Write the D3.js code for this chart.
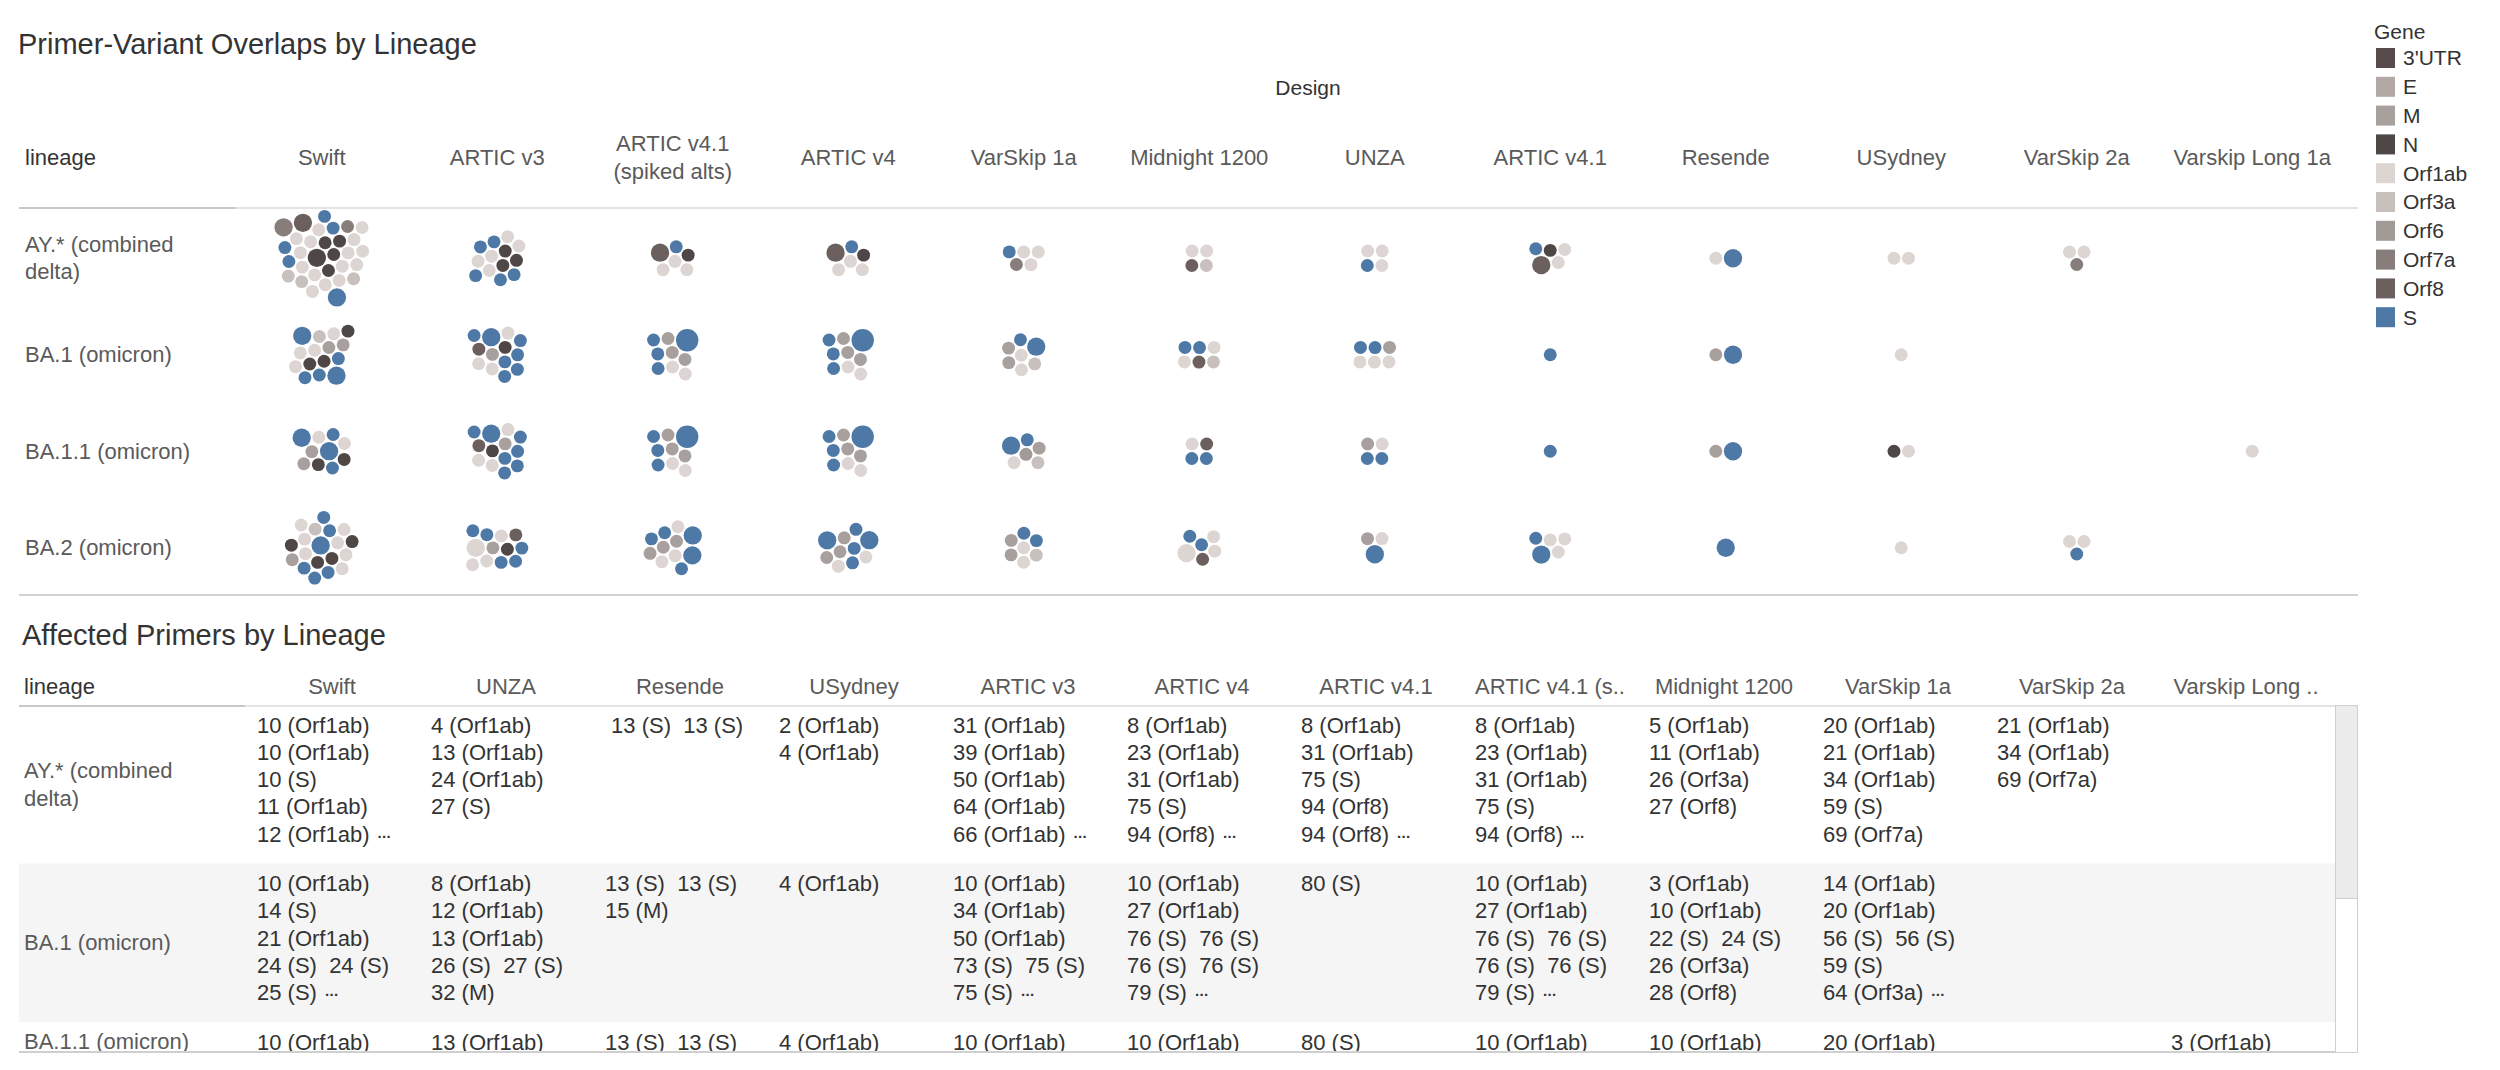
<!DOCTYPE html>
<html>
<head>
<meta charset="utf-8">
<script src="https://cdn.jsdelivr.net/npm/d3@7"></script>
<style>
  body { margin: 0; background: #fff; }
  svg text { font-family: "Liberation Sans", Arial, sans-serif; }
</style>
</head>
<body>
<div id="chart"></div>
<script>
// ---- data ----
var genes = ["3'UTR", "E", "M", "N", "Orf1ab", "Orf3a", "Orf6", "Orf7a", "Orf8", "S"];
var geneColors = ["#574c4b", "#b2a8a6", "#a8a09d", "#4f4746", "#dcd5d2", "#c8c0bd", "#a29a97", "#877e7b", "#6c605e", "#4e79a7"];

var lineages = ["AY.* (combined delta)", "BA.1 (omicron)", "BA.1.1 (omicron)", "BA.2 (omicron)"];
var lineageLines = [["AY.* (combined", "delta)"], ["BA.1 (omicron)"], ["BA.1.1 (omicron)"], ["BA.2 (omicron)"]];

var designs = ["Swift", "ARTIC v3", "ARTIC v4.1 (spiked alts)", "ARTIC v4", "VarSkip 1a", "Midnight 1200",
               "UNZA", "ARTIC v4.1", "Resende", "USydney", "VarSkip 2a", "Varskip Long 1a"];
var designLines = [["Swift"], ["ARTIC v3"], ["ARTIC v4.1", "(spiked alts)"], ["ARTIC v4"], ["VarSkip 1a"], ["Midnight 1200"],
                   ["UNZA"], ["ARTIC v4.1"], ["Resende"], ["USydney"], ["VarSkip 2a"], ["Varskip Long 1a"]];

// bubbles per cell, read top to bottom: [gene, overlaps, how many bubbles]
var bubblesAY = [
  [["Orf7a",2,1],["Orf8",2,1],["S",1,2],["Orf7a",1,1],["Orf1ab",1,4],["N",1,2],["Orf1ab",1,1],["S",1,1],["Orf1ab",1,1],
   ["N",2,1],["N",1,1],["Orf1ab",1,2],["S",1,1],["Orf1ab",1,2],["N",1,1],["Orf1ab",1,2],["Orf3a",1,2],["Orf1ab",1,3],
   ["Orf3a",1,1],["S",2,1]],
  [["S",1,2],["Orf1ab",1,4],["N",1,2],["S",1,1],["Orf1ab",1,1],["N",1,1],["S",1,2]],
  [["Orf8",2,1],["S",1,1],["N",1,1],["Orf1ab",1,3]],
  [["Orf8",2,1],["S",1,1],["N",1,1],["Orf1ab",1,3]],
  [["S",1,1],["Orf1ab",1,2],["Orf7a",1,1],["Orf1ab",1,1]],
  [["Orf1ab",1,2],["Orf8",1,1],["Orf3a",1,1]],
  [["Orf1ab",1,2],["S",1,1],["Orf1ab",1,1]],
  [["S",1,1],["N",1,1],["Orf1ab",1,1],["Orf8",2,1],["Orf1ab",1,1]],
  [["Orf1ab",1,1],["S",2,1]],
  [["Orf1ab",1,2]],
  [["Orf1ab",1,2],["Orf7a",1,1]],
  []
];
var bubblesBA1 = [
  [["S",2,1],["Orf3a",1,1],["Orf1ab",1,1],["N",1,1],["Orf1ab",1,2],["M",1,2],["Orf1ab",1,1],["N",1,2],["S",1,3],["S",2,1]],
  [["S",1,1],["S",2,1],["Orf1ab",1,1],["S",1,1],["Orf8",1,1],["M",1,1],["N",1,1],["S",1,1],["Orf1ab",1,2],["S",1,3]],
  [["S",1,1],["M",1,1],["S",3,1],["S",1,1],["M",1,2],["S",1,1],["Orf1ab",1,2]],
  [["S",1,1],["M",1,1],["S",3,1],["S",1,1],["M",1,2],["S",1,1],["Orf1ab",1,2]],
  [["M",1,1],["S",1,1],["S",2,1],["M",1,1],["Orf1ab",1,1],["Orf3a",1,1],["Orf1ab",1,1]],
  [["S",1,2],["Orf1ab",1,2],["Orf8",1,1],["Orf3a",1,1]],
  [["S",1,2],["M",1,1],["Orf1ab",1,3]],
  [["S",1,1]],
  [["M",1,1],["S",2,1]],
  [["Orf1ab",1,1]],
  [],
  []
];
var bubblesBA11 = [
  [["S",2,1],["Orf1ab",1,1],["S",1,1],["Orf1ab",1,1],["M",1,2],["S",2,1],["N",1,2],["S",1,1]],
  [["S",1,1],["S",2,1],["Orf1ab",1,1],["S",1,1],["Orf8",1,1],["N",1,1],["M",1,1],["S",1,1],["Orf1ab",1,2],["S",1,3]],
  [["S",1,1],["M",1,1],["S",3,1],["S",1,1],["M",1,2],["S",1,1],["Orf1ab",1,2]],
  [["S",1,1],["M",1,1],["S",3,1],["S",1,1],["M",1,2],["S",1,1],["Orf1ab",1,2]],
  [["S",2,1],["S",1,1],["M",1,1],["Orf1ab",1,1],["Orf6",1,1],["Orf3a",1,1]],
  [["Orf1ab",1,1],["Orf8",1,1],["S",1,2]],
  [["M",1,1],["Orf1ab",1,1],["S",1,2]],
  [["S",1,1]],
  [["M",1,1],["S",2,1]],
  [["N",1,1],["Orf1ab",1,1]],
  [],
  [["Orf1ab",1,1]]
];
var bubblesBA2 = [
  [["Orf1ab",1,1],["Orf3a",1,1],["S",1,2],["Orf1ab",1,1],["N",1,1],["Orf1ab",1,1],["S",2,1],["Orf1ab",1,1],["N",1,1],
   ["M",1,1],["Orf1ab",1,1],["N",1,2],["Orf1ab",1,1],["S",1,3],["Orf1ab",1,1]],
  [["S",1,2],["Orf1ab",1,1],["Orf8",1,1],["Orf1ab",2,1],["M",1,1],["N",1,1],["S",1,1],["Orf1ab",1,2],["S",1,2]],
  [["S",1,2],["Orf1ab",1,1],["S",2,1],["M",1,3],["S",2,1],["Orf1ab",1,2],["S",1,1]],
  [["S",2,1],["M",1,1],["S",1,1],["S",2,1],["M",1,2],["S",1,1],["Orf1ab",1,2],["S",1,1]],
  [["M",1,1],["S",1,2],["M",1,1],["Orf1ab",1,1],["Orf3a",1,1],["Orf1ab",1,1]],
  [["S",1,2],["Orf1ab",1,1],["Orf1ab",2,1],["Orf8",1,1],["Orf1ab",1,1]],
  [["M",1,1],["Orf1ab",1,1],["S",2,1]],
  [["S",1,1],["Orf1ab",1,2],["S",2,1],["Orf1ab",1,1]],
  [["S",2,1]],
  [["Orf1ab",1,1]],
  [["Orf1ab",1,2],["S",1,1]],
  []
];
var bubbleRows = [bubblesAY, bubblesBA1, bubblesBA11, bubblesBA2];

// table of affected primers ("~" marks a truncated cell)
var tableDesigns = ["Swift", "UNZA", "Resende", "USydney", "ARTIC v3", "ARTIC v4", "ARTIC v4.1",
                    "ARTIC v4.1 (s..", "Midnight 1200", "VarSkip 1a", "VarSkip 2a", "Varskip Long .."];
var primersAY = [
  ["10 (Orf1ab)", "10 (Orf1ab)", "10 (S)", "11 (Orf1ab)", "12 (Orf1ab)~"],
  ["4 (Orf1ab)", "13 (Orf1ab)", "24 (Orf1ab)", "27 (S)"],
  [" 13 (S)  13 (S)"],
  ["2 (Orf1ab)", "4 (Orf1ab)"],
  ["31 (Orf1ab)", "39 (Orf1ab)", "50 (Orf1ab)", "64 (Orf1ab)", "66 (Orf1ab)~"],
  ["8 (Orf1ab)", "23 (Orf1ab)", "31 (Orf1ab)", "75 (S)", "94 (Orf8)~"],
  ["8 (Orf1ab)", "31 (Orf1ab)", "75 (S)", "94 (Orf8)", "94 (Orf8)~"],
  ["8 (Orf1ab)", "23 (Orf1ab)", "31 (Orf1ab)", "75 (S)", "94 (Orf8)~"],
  ["5 (Orf1ab)", "11 (Orf1ab)", "26 (Orf3a)", "27 (Orf8)"],
  ["20 (Orf1ab)", "21 (Orf1ab)", "34 (Orf1ab)", "59 (S)", "69 (Orf7a)"],
  ["21 (Orf1ab)", "34 (Orf1ab)", "69 (Orf7a)"],
  []
];
var primersBA1 = [
  ["10 (Orf1ab)", "14 (S)", "21 (Orf1ab)", "24 (S)  24 (S)", "25 (S)~"],
  ["8 (Orf1ab)", "12 (Orf1ab)", "13 (Orf1ab)", "26 (S)  27 (S)", "32 (M)"],
  ["13 (S)  13 (S)", "15 (M)"],
  ["4 (Orf1ab)"],
  ["10 (Orf1ab)", "34 (Orf1ab)", "50 (Orf1ab)", "73 (S)  75 (S)", "75 (S)~"],
  ["10 (Orf1ab)", "27 (Orf1ab)", "76 (S)  76 (S)", "76 (S)  76 (S)", "79 (S)~"],
  ["80 (S)"],
  ["10 (Orf1ab)", "27 (Orf1ab)", "76 (S)  76 (S)", "76 (S)  76 (S)", "79 (S)~"],
  ["3 (Orf1ab)", "10 (Orf1ab)", "22 (S)  24 (S)", "26 (Orf3a)", "28 (Orf8)"],
  ["14 (Orf1ab)", "20 (Orf1ab)", "56 (S)  56 (S)", "59 (S)", "64 (Orf3a)~"],
  [],
  []
];
var primersBA11 = [
  ["10 (Orf1ab)"], ["13 (Orf1ab)"], ["13 (S)  13 (S)"], ["4 (Orf1ab)"], ["10 (Orf1ab)"], ["10 (Orf1ab)"],
  ["80 (S)"], ["10 (Orf1ab)"], ["10 (Orf1ab)"], ["20 (Orf1ab)"], [], ["3 (Orf1ab)"]
];
var tableLineages = ["AY.* (combined delta)", "BA.1 (omicron)", "BA.1.1 (omicron)"];
var primerRows = [primersAY, primersBA1, primersBA11];

// ---- layout ----
var W = 2500, H = 1070;
var svg = d3.select("#chart").append("svg")
  .attr("width", W).attr("height", H);

var color = d3.scaleOrdinal().domain(genes).range(geneColors);
var size = d3.scaleSqrt().domain([0, 3]).range([0, 11.2]);

var x = d3.scaleBand().domain(designs).range([234, 2340]);
var y = d3.scaleBand().domain(lineages).range([210, 596]);

// title
svg.append("text").attr("x", 18).attr("y", 44).attr("dy", "0.35em")
  .style("font-size", "29px").attr("fill", "#333")
  .text("Primer-Variant Overlaps by Lineage");

svg.append("text").attr("x", 1308).attr("y", 88).attr("dy", "0.35em")
  .attr("text-anchor", "middle").style("font-size", "21px").attr("fill", "#333")
  .text("Design");

svg.append("text").attr("x", 25).attr("y", 157).attr("dy", "0.35em")
  .style("font-size", "22px").attr("fill", "#333").text("lineage");

// column headers
designs.forEach(function(d, i) {
  var lines = designLines[i];
  var t = svg.append("text").attr("text-anchor", "middle")
    .style("font-size", "22px").attr("fill", "#5a5a5a");
  lines.forEach(function(l, k) {
    t.append("tspan").attr("x", x(d) + x.bandwidth() / 2)
      .attr("y", 157 + (k - (lines.length - 1) / 2) * 28).attr("dy", "0.35em").text(l);
  });
});

// header rules
svg.append("line").attr("x1", 19).attr("x2", 236).attr("y1", 208).attr("y2", 208)
  .attr("stroke", "#c8c8c8").attr("stroke-width", 2);
svg.append("line").attr("x1", 236).attr("x2", 2358).attr("y1", 208).attr("y2", 208)
  .attr("stroke", "#e4e4e4").attr("stroke-width", 2);
svg.append("line").attr("x1", 19).attr("x2", 2358).attr("y1", 595).attr("y2", 595)
  .attr("stroke", "#d2d2d2").attr("stroke-width", 2);

// row labels
lineages.forEach(function(d, i) {
  var lines = lineageLines[i];
  var t = svg.append("text").style("font-size", "22px").attr("fill", "#5a5a5a");
  lines.forEach(function(l, k) {
    t.append("tspan").attr("x", 25)
      .attr("y", y(d) + y.bandwidth() / 2 + (k - (lines.length - 1) / 2) * 27).attr("dy", "0.35em").text(l);
  });
});

// packed bubbles: seed in rows (reading order), then let collide + centering squeeze them
var bubbleG = svg.append("g");
lineages.forEach(function(lin, li) {
  designs.forEach(function(des, di) {
    var nodes = [];
    bubbleRows[li][di].forEach(function(s) {
      for (var k = 0; k < s[2]; k++) nodes.push({ gene: s[0], n: s[1], r: size(s[1]) });
    });
    if (!nodes.length) return;
    var cols = Math.ceil(Math.sqrt(nodes.length)), rows = Math.ceil(nodes.length / cols);
    nodes.forEach(function(d, i) {
      var row = Math.floor(i / cols), col = i % cols;
      var inRow = Math.min(cols, nodes.length - row * cols);
      d.x = (col - (inRow - 1) / 2) * 14.5;
      d.y = (row - (rows - 1) / 2) * 13;
    });
    var sim = d3.forceSimulation(nodes)
      .force("x", d3.forceX(0).strength(0.05))
      .force("y", d3.forceY(0).strength(0.05))
      .force("collide", d3.forceCollide(function(d) { return d.r + 0.8; }).strength(1).iterations(4))
      .stop();
    for (var t = 0; t < 400; t++) sim.tick();
    var x0 = d3.min(nodes, function(d) { return d.x - d.r; }), x1 = d3.max(nodes, function(d) { return d.x + d.r; });
    var y0 = d3.min(nodes, function(d) { return d.y - d.r; }), y1 = d3.max(nodes, function(d) { return d.y + d.r; });
    var ox = x(des) + x.bandwidth() / 2 - (x0 + x1) / 2;
    var oy = y(lin) + y.bandwidth() / 2 - (y0 + y1) / 2;
    bubbleG.append("g").selectAll("circle").data(nodes).join("circle")
      .attr("cx", function(d) { return d.x + ox; })
      .attr("cy", function(d) { return d.y + oy; })
      .attr("r", function(d) { return d.r; })
      .attr("fill", function(d) { return color(d.gene); });
  });
});

// legend
svg.append("text").attr("x", 2374).attr("y", 32).attr("dy", "0.35em")
  .style("font-size", "21px").attr("fill", "#333").text("Gene");
var leg = svg.append("g").selectAll("g").data(genes).join("g")
  .attr("transform", function(d, i) { return "translate(2376," + (58 + i * 28.8) + ")"; });
leg.append("rect").attr("x", 0).attr("y", -10).attr("width", 19).attr("height", 20)
  .attr("fill", function(d) { return color(d); });
leg.append("text").attr("x", 27).attr("dy", "0.35em")
  .style("font-size", "21px").attr("fill", "#333").text(function(d) { return d; });

// ---- affected primers table ----
var tx = d3.scaleBand().domain(tableDesigns).range([245, 2333]);
var ty = d3.scaleBand().domain(tableLineages).range([705, 705 + 3 * 158.5]);
var clipBottom = 1052;

svg.append("text").attr("x", 22).attr("y", 635).attr("dy", "0.35em")
  .style("font-size", "29px").attr("fill", "#333").text("Affected Primers by Lineage");

svg.append("text").attr("x", 24).attr("y", 686).attr("dy", "0.35em")
  .style("font-size", "22px").attr("fill", "#333").text("lineage");

svg.append("g").selectAll("text").data(tableDesigns).join("text")
  .attr("x", function(d) { return tx(d) + tx.bandwidth() / 2; })
  .attr("y", 686).attr("dy", "0.35em").attr("text-anchor", "middle")
  .style("font-size", "22px").attr("fill", "#5a5a5a").text(function(d) { return d; });

svg.append("clipPath").attr("id", "tclip").append("rect")
  .attr("x", 0).attr("y", 706).attr("width", 2335).attr("height", clipBottom - 706);

var body = svg.append("g").attr("clip-path", "url(#tclip)");

// banded row
body.append("rect").attr("x", 19).attr("width", 2316)
  .attr("y", ty("BA.1 (omicron)")).attr("height", ty.bandwidth()).attr("fill", "#f5f5f5");

tableLineages.forEach(function(lin, li) {
  var top = ty(lin);
  var lines = lineageLines[li];
  var cy = top + ty.bandwidth() / 2;
  if (top + ty.bandwidth() > clipBottom) cy = top + 19;
  var lt = body.append("text").style("font-size", "22px").attr("fill", "#5a5a5a");
  lines.forEach(function(l, k) {
    lt.append("tspan").attr("x", 24).attr("y", cy + (k - (lines.length - 1) / 2) * 28)
      .attr("dy", "0.35em").text(l);
  });

  tableDesigns.forEach(function(des, di) {
    primerRows[li][di].forEach(function(line, k) {
      var more = line.slice(-1) === "~";
      var t = body.append("text").attr("x", tx(des) + 12).attr("y", top + 20 + k * 27.2)
        .attr("dy", "0.35em").attr("xml:space", "preserve")
        .style("font-size", "22px").attr("fill", "#333")
        .text(more ? line.slice(0, -1) : line);
      if (more) {
        t.append("tspan").attr("dx", 8).style("font-weight", "bold").style("font-size", "15px")
          .style("letter-spacing", "-0.5px").text("\u00b7\u00b7\u00b7");
      }
    });
  });
});

// table rules
svg.append("line").attr("x1", 19).attr("x2", 245).attr("y1", 706).attr("y2", 706)
  .attr("stroke", "#c8c8c8").attr("stroke-width", 2);
svg.append("line").attr("x1", 245).attr("x2", 2335).attr("y1", 706).attr("y2", 706)
  .attr("stroke", "#e4e4e4").attr("stroke-width", 2);
svg.append("line").attr("x1", 19).attr("x2", 2335).attr("y1", clipBottom).attr("y2", clipBottom)
  .attr("stroke", "#cfcfcf").attr("stroke-width", 2);

// scrollbar
svg.append("rect").attr("x", 2335.5).attr("y", 705.5).attr("width", 22).attr("height", clipBottom - 705)
  .attr("fill", "#fff").attr("stroke", "#cfcfcf");
svg.append("rect").attr("x", 2335.5).attr("y", 705.5).attr("width", 22).attr("height", 193)
  .attr("fill", "#ececec").attr("stroke", "#cfcfcf");
</script>
</body>
</html>
